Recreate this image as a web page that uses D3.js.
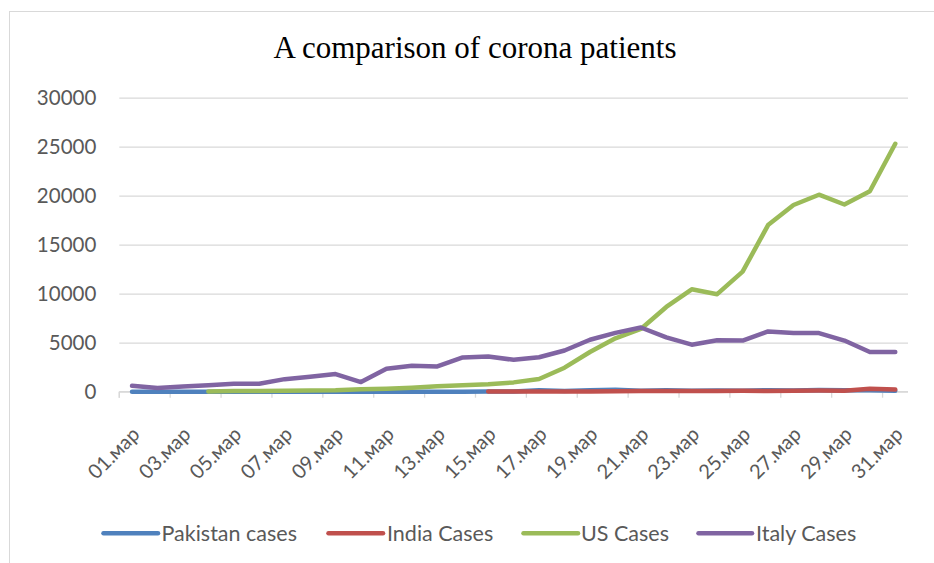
<!DOCTYPE html>
<html>
<head>
<meta charset="utf-8">
<script src="https://cdn.jsdelivr.net/npm/d3@7"></script>
<style>
  html, body { margin: 0; padding: 0; background: #fff; }
  svg { display: block; }
</style>
</head>
<body>
<svg id="chart" width="934" height="563"></svg>
<script>
// ---- data ----
const categories = ["01.мар","02.мар","03.мар","04.мар","05.мар","06.мар","07.мар","08.мар","09.мар","10.мар",
  "11.мар","12.мар","13.мар","14.мар","15.мар","16.мар","17.мар","18.мар","19.мар","20.мар",
  "21.мар","22.мар","23.мар","24.мар","25.мар","26.мар","27.мар","28.мар","29.мар","30.мар","31.мар"];

const pakistanCases = [0,0,0,0,0,0,0,0,0,0,0,0,0,0,
  20,30,150,60,150,200,100,150,100,120,100,150,120,170,150,140,100];
const indiaCases = [null,null,null,null,null,null,null,null,null,null,null,null,null,null,
  10,20,15,30,30,50,60,75,80,70,90,80,100,110,100,300,230];
const usCases = [null,null,null,30,60,80,100,120,150,250,
  300,400,550,650,750,950,1300,2450,4050,5450,6400,8650,10450,9950,12250,17000,19050,20100,19100,20450,25300];
const italyCases = [600,380,520,650,800,820,1280,1520,1800,980,
  2350,2650,2580,3500,3600,3250,3520,4200,5300,6000,6550,5550,4800,5250,5220,6150,5980,5980,5220,4050,4050];

const seriesNames = ["Pakistan cases","India Cases","US Cases","Italy Cases"];
const seriesValues = [pakistanCases, indiaCases, usCases, italyCases];
const seriesColors = ["#4F81BD","#C0504D","#9BBB59","#8064A2"];

const yTicks = [0,5000,10000,15000,20000,25000,30000];
const xLabelEvery = 2;
const chartTitle = "A comparison of corona patients";

// ---- layout ----
const svg = d3.select("#chart");
const W = 934, H = 563;
const plot = { left: 119.3, right: 908, top: 97.7, bottom: 391.7 };
const textColor = "#595959";
const gridColor = "#D9D9D9";

svg.append("rect").attr("width", W).attr("height", H).attr("fill", "#fff");
// chart border (only left/top visible in frame)
svg.append("rect").attr("x", 9.5).attr("y", 11.5).attr("width", 1200).attr("height", 1200)
  .attr("fill", "none").attr("stroke", gridColor).attr("stroke-width", 1);

const x = d3.scaleBand().domain(categories).range([plot.left, plot.right]).padding(0);
const y = d3.scaleLinear().domain([0, 30000]).range([plot.bottom, plot.top]);
const cx = d => x(d) + x.bandwidth() / 2;

// title
svg.append("text").attr("x", 475).attr("y", 58.3)
  .attr("text-anchor", "middle")
  .attr("font-family", "'Liberation Serif', 'Times New Roman', serif")
  .attr("font-size", 31).attr("fill", "#000").text(chartTitle);

// grid lines + y axis labels
const yAxis = d3.axisLeft(y).tickValues(yTicks).tickSize(-(plot.right - plot.left)).tickPadding(23)
  .tickFormat(d3.format("d"));
const gy = svg.append("g").attr("transform", `translate(${plot.left},0)`).call(yAxis);
gy.select(".domain").remove();
gy.selectAll(".tick line").attr("stroke", gridColor).attr("stroke-width", 1.3);
gy.selectAll(".tick text").attr("font-family", "Lato, sans-serif").attr("font-size", 20.5)
  .attr("fill", textColor);

// x axis
const xTickVals = categories.filter((d, i) => i % xLabelEvery === 0);
const xAxis = d3.axisBottom(x).tickValues(xTickVals).tickSize(6).tickSizeOuter(0).tickFormat(d => d);
const gx = svg.append("g").attr("transform", `translate(0,${plot.bottom})`).call(xAxis);
gx.select(".domain").attr("stroke", gridColor).attr("stroke-width", 1.3)
  .attr("d", `M${plot.left},0H${plot.right}M${plot.left},0V6`);
gx.selectAll(".tick line").attr("stroke", gridColor).attr("stroke-width", 1.3)
  .attr("transform", `translate(${-x.bandwidth()/2},0)`);
gx.selectAll(".tick text")
  .attr("font-family", "Lato, sans-serif").attr("font-size", 20).attr("fill", textColor)
  .attr("text-anchor", "end").attr("dy", null).attr("y", 0)
  .attr("transform", "translate(9,44) rotate(-45)");

// lines
const line = d3.line()
  .defined(v => v !== null)
  .x((v, i) => cx(categories[i]))
  .y(v => y(v));

seriesValues.forEach((vals, k) => {
  svg.append("path").datum(vals)
    .attr("d", line)
    .attr("fill", "none")
    .attr("stroke", seriesColors[k])
    .attr("stroke-width", 4.5)
    .attr("stroke-linejoin", "round")
    .attr("stroke-linecap", "round");
});

// legend
const legendItems = [
  { lx1: 103.5, lx2: 158, tx: 161.5 },
  { lx1: 328.5, lx2: 383, tx: 387 },
  { lx1: 523.5, lx2: 578, tx: 581 },
  { lx1: 698.5, lx2: 752, tx: 756 }
];
const lg = svg.append("g");
seriesNames.forEach((name, k) => {
  const it = legendItems[k];
  lg.append("line").attr("x1", it.lx1).attr("x2", it.lx2).attr("y1", 533.3).attr("y2", 533.3)
    .attr("stroke", seriesColors[k]).attr("stroke-width", 4.5).attr("stroke-linecap", "round");
  lg.append("text").attr("x", it.tx).attr("y", 540.7)
    .attr("font-family", "Lato, sans-serif").attr("font-size", 21.5).attr("fill", textColor)
    .text(name);
});
</script>
</body>
</html>
